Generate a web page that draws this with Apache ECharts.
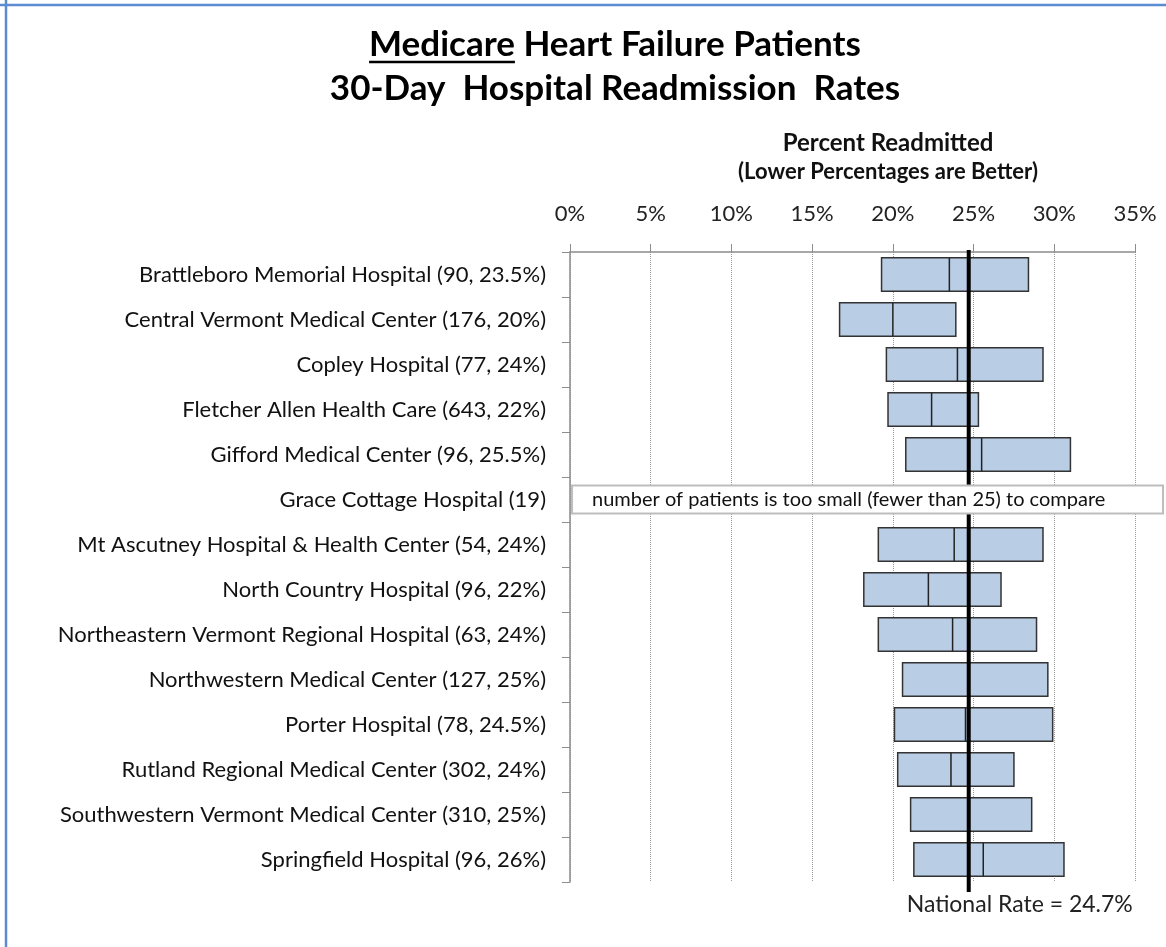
<!DOCTYPE html>
<html>
<head>
<meta charset="utf-8">
<script src="https://cdn.jsdelivr.net/npm/echarts@6/dist/echarts.min.js"></script>
<style>
  html, body { margin: 0; background: #fff; }
  #main { width: 1166px; height: 947px; }
</style>
</head>
<body>
<div id="main"></div>
<script>
// readmission rates (%): low / point estimate / high
const hospitals = [
  'Brattleboro Memorial Hospital (90, 23.5%)',
  'Central Vermont Medical Center (176, 20%)',
  'Copley Hospital (77, 24%)',
  'Fletcher Allen Health Care (643, 22%)',
  'Gifford Medical Center (96, 25.5%)',
  'Grace Cottage Hospital (19)',
  'Mt Ascutney Hospital & Health Center (54, 24%)',
  'North Country Hospital (96, 22%)',
  'Northeastern Vermont Regional Hospital (63, 24%)',
  'Northwestern Medical Center (127, 25%)',
  'Porter Hospital (78, 24.5%)',
  'Rutland Regional Medical Center (302, 24%)',
  'Southwestern Vermont Medical Center (310, 25%)',
  'Springfield Hospital (96, 26%)'
];
const lowerRate  = [19.3, 16.7, 19.6, 19.7, 20.8, null, 19.1, 18.2, 19.1, 20.6, 20.1, 20.3, 21.1, 21.3];
const medianRate = [23.5, 20.0, 24.0, 22.4, 25.5, null, 23.8, 22.2, 23.7, 24.7, 24.5, 23.6, 24.7, 25.6];
const upperRate  = [28.4, 23.9, 29.3, 25.3, 31.0, null, 29.3, 26.7, 28.9, 29.6, 29.9, 27.5, 28.6, 30.6];
const nationalRate = 24.7;
const tooSmallNote = 'number of patients is too small (fewer than 25) to compare';

const FONT = 'Lato';
const titleLine1 = 'Medicare Heart Failure Patients';
const titleLine2 = '30-Day  Hospital Readmission  Rates';
const titleFont = 'bold 35px ' + FONT;

const chart = echarts.init(document.getElementById('main'));

// rows with data, and rows that only get the note
const boxData = [];
const noteData = [];
hospitals.forEach((h, i) => {
  if (lowerRate[i] == null) noteData.push([0, h]);
  else boxData.push([lowerRate[i], medianRate[i], upperRate[i], h]);
});

// width of "Medicare" for the underline
const ctx = document.createElement('canvas').getContext('2d');
ctx.font = titleFont;
const fullW = ctx.measureText(titleLine1).width;
const medW = ctx.measureText('Medicare').width;
const titleX = 615;

function renderBox(params, api) {
  const lo = api.coord([api.value(0), api.value(3)]);
  const md = api.coord([api.value(1), api.value(3)]);
  const hi = api.coord([api.value(2), api.value(3)]);
  const h = api.size([0, 1])[1] * 0.74;
  return {
    type: 'group',
    children: [
      { type: 'rect', shape: { x: lo[0], y: lo[1] - h / 2, width: hi[0] - lo[0], height: h },
        style: { fill: '#b9cde5', stroke: '#333', lineWidth: 1.5 } },
      { type: 'line', shape: { x1: md[0], y1: lo[1] - h / 2, x2: md[0], y2: lo[1] + h / 2 },
        style: { stroke: '#222', lineWidth: 1.5 } }
    ]
  };
}

function renderNational(params, api) {
  const p = api.coord([api.value(0), api.value(1)]);
  const cs = params.coordSys;
  return {
    type: 'group',
    children: [
      { type: 'line', shape: { x1: p[0], y1: cs.y - 2, x2: p[0], y2: cs.y + cs.height + 10 },
        style: { stroke: '#000', lineWidth: 4 } },
      { type: 'text', x: p[0] + 51, y: cs.y + cs.height + 23,
        style: { text: 'National Rate = ' + nationalRate + '%', font: '23px ' + FONT,
                 fill: '#222', align: 'center', verticalAlign: 'middle' } }
    ]
  };
}

function renderNote(params, api) {
  const p = api.coord([api.value(0), api.value(1)]);
  const h = 28;
  const x = p[0] + 2;
  return {
    type: 'group',
    children: [
      { type: 'rect', shape: { x: x, y: p[1] - h / 2, width: api.getWidth() - 3 - x, height: h },
        style: { fill: '#fff', stroke: '#bdbdbd', lineWidth: 2 } },
      { type: 'text', x: x + 20, y: p[1],
        style: { text: tooSmallNote, font: '20px ' + FONT, fill: '#111', verticalAlign: 'middle' } }
    ]
  };
}

const option = {
  backgroundColor: '#fff',
  animation: false,
  grid: { left: 570, right: 31, top: 252, bottom: 65 },
  graphic: [
    { type: 'line', shape: { x1: 6, y1: 0, x2: 6, y2: 947 }, style: { stroke: '#5b8bd0', lineWidth: 2.5 } },
    { type: 'line', shape: { x1: 0, y1: 5, x2: 1166, y2: 5 }, style: { stroke: '#5b8bd0', lineWidth: 2.5 } },
    { type: 'text', x: titleX, y: 45, style: { text: titleLine1, font: titleFont, fill: '#000', align: 'center', verticalAlign: 'middle' } },
    { type: 'line', shape: { x1: titleX - fullW / 2, y1: 62, x2: titleX - fullW / 2 + medW, y2: 62 }, style: { stroke: '#000', lineWidth: 2.5 } },
    { type: 'text', x: titleX, y: 89, style: { text: titleLine2, font: titleFont, fill: '#000', align: 'center', verticalAlign: 'middle' } },
    { type: 'text', x: 888, y: 143, style: { text: 'Percent Readmitted', font: 'bold 24px ' + FONT, fill: '#111', align: 'center', verticalAlign: 'middle' } },
    { type: 'text', x: 888, y: 172, style: { text: '(Lower Percentages are Better)', font: 'bold 22px ' + FONT, fill: '#111', align: 'center', verticalAlign: 'middle' } }
  ],
  xAxis: {
    type: 'value',
    position: 'top',
    min: 0,
    max: 35,
    interval: 5,
    axisLine: { show: true, lineStyle: { color: '#8c8c8c', width: 1.5 } },
    axisTick: { show: true, length: 8, lineStyle: { color: '#8c8c8c' } },
    axisLabel: { formatter: '{value}%', fontFamily: FONT, fontSize: 22, color: '#222', margin: 27 },
    splitLine: { show: true, lineStyle: { type: 'dotted', color: '#9a9a9a' } }
  },
  yAxis: {
    type: 'category',
    inverse: true,
    data: hospitals,
    axisLine: { show: true, lineStyle: { color: '#8c8c8c', width: 1.5 } },
    axisTick: { show: true, length: 8, interval: 0, lineStyle: { color: '#8c8c8c' } },
    axisLabel: { fontFamily: FONT, fontSize: 22, color: '#111', margin: 24, interval: 0 },
    splitLine: { show: false }
  },
  series: [
    { type: 'custom', name: 'rate', renderItem: renderBox, data: boxData,
      encode: { x: [0, 1, 2], y: 3 }, z: 2 },
    { type: 'custom', name: 'national', renderItem: renderNational, data: [[nationalRate, hospitals[0]]],
      encode: { x: 0, y: 1 }, z: 3 },
    { type: 'custom', name: 'note', renderItem: renderNote, data: noteData,
      encode: { x: 0, y: 1 }, z: 4 }
  ]
};

chart.setOption(option);
</script>
</body>
</html>
